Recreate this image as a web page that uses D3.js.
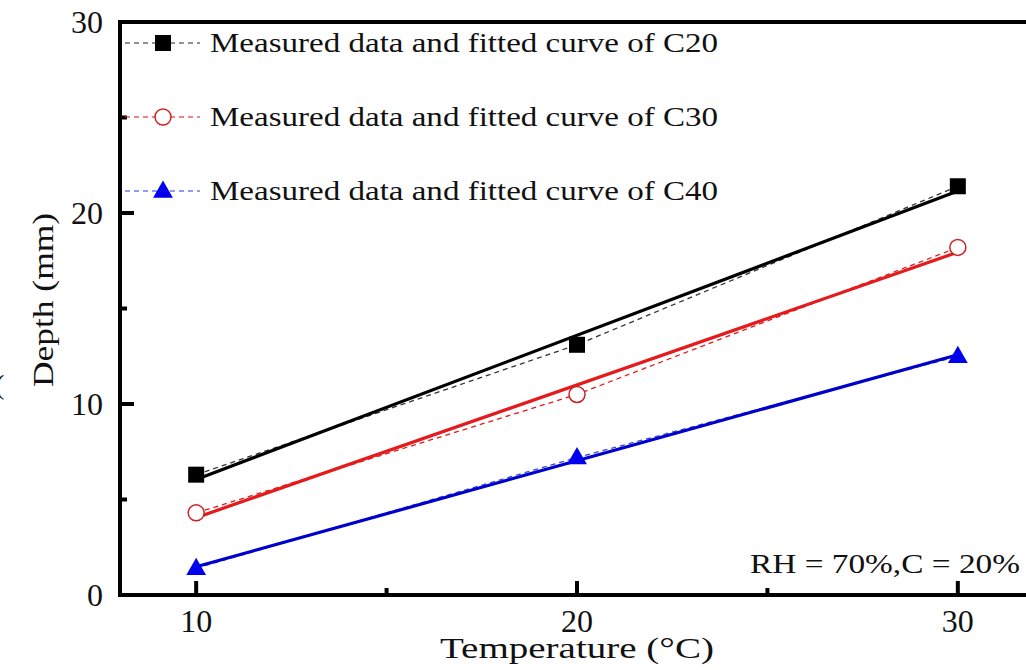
<html lang="en">
<head>
	<title>Depth vs temperature</title>
	<script src="https://d3js.org/d3.v7.min.js" charset="utf-8"></script>
	<style>
		body { margin: 0; background: #fff; }
		text { font-family: "Liberation Serif", "Times New Roman", serif; fill: #111; }
	</style>
</head>
<body>
<script>
// data
var temps = [10, 20, 30];
var c20 = [6.3, 13.1, 21.4];
var c30 = [4.3, 10.5, 18.2];
var c40 = [1.4, 7.2, 12.5];
// fitted straight lines, end values at 10 and 30 degC
var fitTemps = [10, 30];
var fitC20 = [6.05, 21.15];
var fitC30 = [4.05, 17.95];
var fitC40 = [1.48, 12.58];
var xTicks = [10, 20, 30];
var yTicks = [0, 10, 20, 30];
var legendLabels = ["Measured data and fitted curve of C20",
	"Measured data and fitted curve of C30",
	"Measured data and fitted curve of C40"];

var w = 1026, h = 670;
var plotLeft = 120, plotTop = 22, plotBottom = 595, plotRight = 1034;

var svg = d3.select("body").append("svg")
	.attr("width", w)
	.attr("height", h);

var x = d3.scaleLinear().domain([8, 32]).range([plotLeft, plotRight]);
var y = d3.scaleLinear().domain([0, 30]).range([plotBottom, plotTop]);

var series = [
	{vals: c20, fit: fitC20, color: "#000", dash: "#333", sym: "square"},
	{vals: c30, fit: fitC30, color: "#e41a1c", dash: "#e41a1c", sym: "circle"},
	{vals: c40, fit: fitC40, color: "#0000cc", dash: "#3344dd", sym: "triangle"}
];

var line = d3.line().x(function(d){ return x(d[0]); }).y(function(d){ return y(d[1]); });

function drawMarker(g, s, cx, cy) {
	if (s.sym == "square") {
		g.append("rect").attr("x", cx - 8).attr("y", cy - 8)
			.attr("width", 16).attr("height", 16).attr("fill", "#000");
	} else if (s.sym == "circle") {
		g.append("circle").attr("cx", cx).attr("cy", cy).attr("r", 8)
			.attr("fill", "#fff").attr("stroke", "#cc2222").attr("stroke-width", 1.5);
	} else {
		g.append("path")
			.attr("d", d3.symbol().type(d3.symbolTriangle).size(170)())
			.attr("transform", "translate(" + cx + "," + (cy + 1) + ")")
			.attr("fill", "#0000ee");
	}
}

var plot = svg.append("g");
series.forEach(function(s) {
	// dashed line through measured points
	plot.append("path")
		.datum(temps.map(function(t, i){ return [t, s.vals[i]]; }))
		.attr("d", line)
		.attr("fill", "none")
		.attr("stroke", s.dash)
		.attr("stroke-width", 1.3)
		.attr("stroke-dasharray", "5,4");
	// fitted line
	plot.append("path")
		.datum(fitTemps.map(function(t, i){ return [t, s.fit[i]]; }))
		.attr("d", line)
		.attr("fill", "none")
		.attr("stroke", s.color)
		.attr("stroke-width", 3.2);
	temps.forEach(function(t, i) {
		drawMarker(plot, s, x(t), y(s.vals[i]));
	});
});

// axes frame
var ax = svg.append("g").attr("stroke", "#000");
ax.append("line").attr("x1", plotLeft).attr("x2", plotLeft).attr("y1", plotTop - 2).attr("y2", plotBottom + 2).attr("stroke-width", 4);
ax.append("line").attr("x1", plotLeft - 2).attr("x2", w).attr("y1", plotBottom).attr("y2", plotBottom).attr("stroke-width", 4);
ax.append("line").attr("x1", plotLeft - 2).attr("x2", w).attr("y1", plotTop).attr("y2", plotTop).attr("stroke-width", 4);

// inward ticks
[10, 15, 20, 25, 30].forEach(function(t) {
	var major = xTicks.indexOf(t) >= 0;
	ax.append("line").attr("x1", x(t)).attr("x2", x(t))
		.attr("y1", plotBottom).attr("y2", plotBottom - (major ? 14 : 7)).attr("stroke-width", 4);
});
[5, 10, 15, 20, 25].forEach(function(t) {
	var major = yTicks.indexOf(t) >= 0;
	ax.append("line").attr("x1", plotLeft).attr("x2", plotLeft + (major ? 14 : 7))
		.attr("y1", y(t)).attr("y2", y(t)).attr("stroke-width", 4);
});

// tick labels
svg.selectAll(".xl").data(xTicks).enter().append("text")
	.attr("x", function(d){ return x(d); })
	.attr("y", 632)
	.attr("text-anchor", "middle")
	.attr("font-size", 32)
	.text(function(d){ return d; });
svg.selectAll(".yl").data(yTicks).enter().append("text")
	.attr("x", 103)
	.attr("y", function(d){ return y(d) + 11; })
	.attr("text-anchor", "end")
	.attr("font-size", 32)
	.text(function(d){ return d; });

// axis titles
svg.append("text").attr("x", 577).attr("y", 658)
	.attr("text-anchor", "middle").attr("font-size", 29)
	.attr("textLength", 274).attr("lengthAdjust", "spacingAndGlyphs")
	.text("Temperature (°C)");
svg.append("text")
	.attr("transform", "translate(53,300) rotate(-90)")
	.attr("text-anchor", "middle").attr("font-size", 30)
	.attr("textLength", 174).attr("lengthAdjust", "spacingAndGlyphs")
	.text("Depth (mm)");
svg.append("text").attr("x", -5).attr("y", 394).attr("font-size", 28).text("(");

// legend
legendLabels.forEach(function(lab, i) {
	var ly = 43 + i * 74;
	var s = series[i];
	svg.append("line").attr("x1", 125).attr("x2", 200).attr("y1", ly).attr("y2", ly)
		.attr("stroke", s.dash).attr("stroke-width", 1.3).attr("stroke-dasharray", "5,4").attr("opacity", 0.7);
	drawMarker(svg, s, 163, ly);
	svg.append("text").attr("x", 210).attr("y", ly + 9)
		.attr("font-size", 28)
		.attr("textLength", 508).attr("lengthAdjust", "spacingAndGlyphs")
		.text(lab);
});

svg.append("text").attr("x", 750).attr("y", 573)
	.attr("font-size", 27)
	.attr("textLength", 270).attr("lengthAdjust", "spacingAndGlyphs")
	.text("RH = 70%,C = 20%");
</script>
</body>
</html>
